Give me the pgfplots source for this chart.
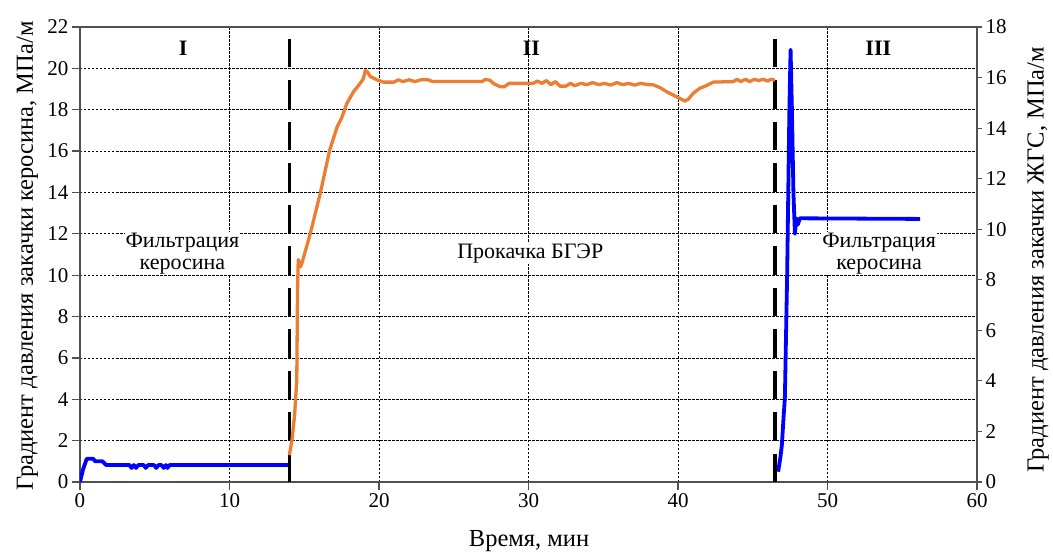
\documentclass[border=0pt]{standalone}
\usepackage{fontspec}
\setmainfont{Liberation Serif}
\usepackage{pgfplots}
\pgfplotsset{compat=1.18}
\definecolor{kblue}{RGB}{0,0,255}
\definecolor{gorange}{RGB}{237,125,49}
\definecolor{frame}{RGB}{80,80,80}

\pgfplotsset{
  common/.style={
    scale only axis, width=897pt, height=455pt,
    xmin=0, xmax=60,
    axis line style={frame, line width=1.2pt},
    tick style={frame, line width=1.2pt},
    major tick length=8pt, tick align=outside,
    tick label style={font=\fontsize{21}{22}\selectfont},
    label style={font=\fontsize{24.5}{26}\selectfont},
    /pgf/number format/assume math mode=true,
  }
}

\begin{document}
\begin{tikzpicture}
\begin{axis}[common, name=main,
  ymin=0, ymax=22,
  xtick={0,10,...,60}, ytick={0,2,...,22},
  xtick pos=left, ytick pos=left,
  grid=major,
  major grid style={black, line width=0.7pt, dash pattern=on 2.5pt off 1.5pt},
  xlabel={Время, мин},
  xlabel style={at={(axis description cs:0.5006,-0.13)}, anchor=center},
  ylabel={Градиент давления закачки керосина, МПа/м},
  ylabel style={at={(axis description cs:-0.0585,0.497)}, anchor=center},
]
% керосин, участок I
\addplot[kblue, line width=3.8pt, line join=round] coordinates {
(0,0) (0.2,0.6) (0.45,1.12) (0.9,1.12) (1.0,1.0) (1.5,1.0) (1.75,0.82)
(3.3,0.82) (3.45,0.68) (3.6,0.82) (3.75,0.68) (3.9,0.82) (4.25,0.82)
(4.4,0.68) (4.55,0.82) (4.95,0.82) (5.1,0.68) (5.25,0.82) (5.45,0.82)
(5.6,0.68) (5.75,0.82) (5.85,0.68) (6.0,0.82) (14.0,0.82)
};
% керосин, участок III
\addplot[kblue, line width=3.8pt, line join=round] coordinates {
(46.7,0.5) (46.85,1.2) (46.95,1.8) (47.05,3.0) (47.15,4.1) (47.3,10)
(47.45,18) (47.53,20.9) (47.62,18) (47.72,14) (47.82,12.0) (47.92,12.75)
(48.02,12.45) (48.15,12.75) (56.2,12.72)
};
% границы этапов
\addplot[black, line width=3.5pt, dash pattern=on 28.5pt off 13pt] coordinates {(14,21.42) (14,0)};
\addplot[black, line width=3.5pt, dash pattern=on 28.5pt off 13pt] coordinates {(46.48,21.42) (46.48,0)};

\node[font=\bfseries\fontsize{22}{24}\selectfont] at (axis cs:6.9,20.95) {I};
\node[font=\bfseries\fontsize{22}{24}\selectfont] at (axis cs:30.2,20.95) {II};
\node[font=\bfseries\fontsize{22}{24}\selectfont] at (axis cs:53.4,20.95) {III};

\node[fill=white, inner sep=1pt, align=center, font=\fontsize{22}{22.5}\selectfont] at (axis cs:6.85,11.05) {Фильтрация\\керосина};
\node[fill=white, inner sep=1pt, font=\fontsize{22}{22.5}\selectfont] at (axis cs:30.12,11.05) {Прокачка БГЭР};
\node[fill=white, inner sep=1pt, align=center, font=\fontsize{22}{22.5}\selectfont] at (axis cs:53.45,11.05) {Фильтрация\\керосина};
\end{axis}

\begin{axis}[common,
  ymin=0, ymax=18, ytick={0,2,...,18},
  axis x line=none, axis y line*=right,
  major tick length=5pt,
  ylabel={Градиент давления закачки ЖГС, МПа/м},
  ylabel style={at={(axis description cs:1.068,0.488)}, anchor=center},
]
% ЖГС (значения по правой оси)
\addplot[gorange, line width=3.3pt, line join=round] coordinates {
(14.0,1.06) (14.18,1.66) (14.35,2.62) (14.5,4.01) (14.55,7.61) (14.6,8.80)
(14.75,8.51) (14.85,8.67) (15.4,9.82) (16.07,11.42) (16.7,13.13) (17.2,14.05)
(17.5,14.40) (17.85,14.98) (18.3,15.44) (18.74,15.77) (18.95,15.95) (19.08,16.27)
(19.2,16.24) (19.42,16.04) (19.86,15.91) (20.3,15.82) (21.0,15.82) (21.3,15.91)
(21.6,15.84) (22.0,15.91) (22.4,15.84) (22.8,15.91) (23.3,15.91) (23.6,15.84)
(24.1,15.84) (26.9,15.84) (27.1,15.92) (27.4,15.90) (27.7,15.75) (28.1,15.64)
(28.4,15.64) (28.7,15.77) (30.3,15.77) (30.6,15.86) (30.9,15.77) (31.2,15.88)
(31.5,15.72) (31.8,15.84) (32.1,15.66) (32.5,15.66) (32.8,15.77) (33.1,15.68)
(33.5,15.77) (33.9,15.72) (34.3,15.80) (34.7,15.72) (35.1,15.77) (35.5,15.70)
(35.9,15.80) (36.3,15.72) (36.7,15.77) (37.1,15.70) (37.5,15.77) (38.0,15.72)
(38.35,15.71) (38.8,15.60) (39.24,15.44) (39.9,15.24) (40.47,15.07) (40.7,15.15)
(41.02,15.38) (41.47,15.58) (41.9,15.68) (42.36,15.82) (43.7,15.84) (43.95,15.93)
(44.2,15.84) (44.5,15.93) (44.8,15.84) (45.1,15.93) (45.4,15.88) (45.7,15.93)
(46.0,15.86) (46.2,15.93) (46.48,15.90)
};
\end{axis}

\path (main.south west) ++(-80pt,-72pt);
\path (main.north east) ++(76pt,27pt);
\end{tikzpicture}
\end{document}
